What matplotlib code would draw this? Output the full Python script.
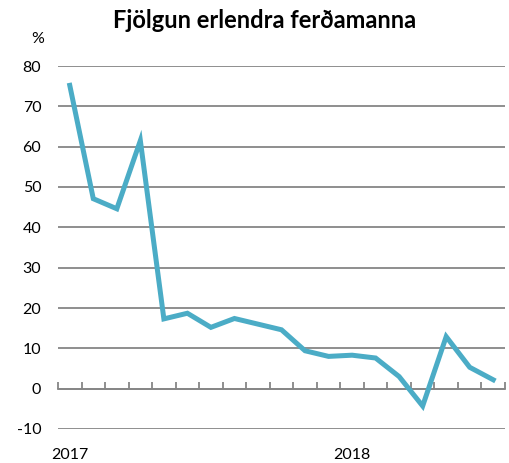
import numpy as np
import matplotlib.pyplot as plt
from matplotlib import transforms

# monthly growth in foreign visitors, Jan 2017 - Jul 2018
values = [75.2, 47.1, 44.6, 61.5, 17.3, 18.7, 15.2, 17.4, 16.0, 14.6,
          9.4, 8.0, 8.3, 7.6, 3.0, -4.3, 12.9, 5.3, 2.2]
year_pos = [0, 12]
year_labels = ["2017", "2018"]
yticks = [-10, 0, 10, 20, 30, 40, 50, 60, 70, 80]

plt.rcParams['font.family'] = ['Lato', 'DejaVu Sans']

fig = plt.figure(figsize=(5.09, 4.63), dpi=100)
ax = fig.add_axes([58/509, 1-429/463, 447/509, 363/463])

x = np.arange(len(values))
ax.plot(x, values, color='#4BACC6', lw=3.6, solid_joinstyle='miter', zorder=3)

ax.set_xlim(-0.5, len(values) - 0.5)
ax.set_ylim(-10, 80)
ax.set_yticks(yticks)
ax.set_yticklabels([str(v) for v in yticks], fontsize=11.5)
ax.yaxis.grid(True, color='#868686', lw=1.3)
ax.set_axisbelow(True)
ax.tick_params(axis='y', length=0, pad=12)

for s in ['top', 'right', 'left']:
    ax.spines[s].set_visible(False)
ax.spines['bottom'].set_position(('data', 0))
ax.spines['bottom'].set_color('#868686')
ax.spines['bottom'].set_linewidth(1.3)
ax.set_xticks(np.arange(-0.5, len(values), 1))
ax.set_xticklabels([])
ax.tick_params(axis='x', direction='in', length=5, width=1.3, color='#868686')

trans = transforms.blended_transform_factory(ax.transData, ax.transAxes)
for p, lab in zip(year_pos, year_labels):
    ax.text(p, -0.072, lab, transform=trans, ha='center', va='center', fontsize=11.5)

fig.text(38/509, 1-39/463, "%", ha='center', va='center', fontsize=11.5)
fig.text(265/509, 1-20/463, "Fjölgun erlendra ferðamanna", ha='center', va='center',
         fontsize=17, fontweight='bold')

fig.savefig('out.png', dpi=100)
